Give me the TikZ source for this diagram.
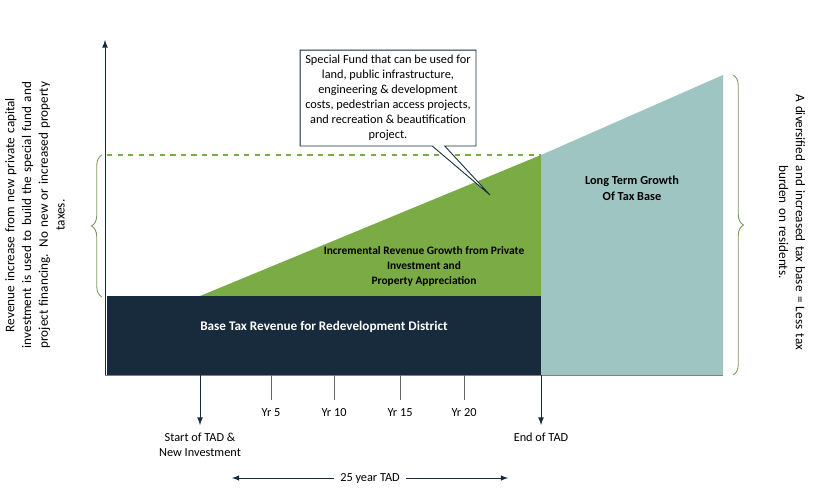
\documentclass[tikz,border=0pt]{standalone}
\usepackage{fontspec}
\setmainfont{Carlito}
\usetikzlibrary{calc,positioning,shapes.callouts,decorations.pathreplacing}
\definecolor{navy}{HTML}{172B3C}
\definecolor{leaf}{HTML}{7AAB45}
\definecolor{teal}{HTML}{9FC5C3}
\begin{document}
\begin{tikzpicture}[x=0.02cm, y=-0.02cm, font=\fontsize{7}{8.5}\selectfont,
  tick/.style={gray!80!black, line width=0.5pt},
  lbl/.style={align=center, text=black, execute at begin node={\hyphenpenalty=10000}},
  brc/.style={decorate, decoration={brace, amplitude=6pt}, leaf!60!gray, line width=0.5pt}]
  \useasboundingbox (0,0) rectangle (820,495);

  % areas
  \fill[teal] (541,155) -- (723,75) -- (723,375) -- (541,375) -- cycle;
  \fill[leaf] (200,296) -- (541,155) -- (541,296) -- cycle;
  \fill[navy] (107,296) rectangle (541,375);
  \draw[leaf, dashed, line width=0.6pt] (107,155) -- (541,155);

  \node[text=white, font=\fontsize{7.5}{9}\selectfont\bfseries] (base) at (324,327) {Base Tax Revenue for Redevelopment District};
  \node[text=white, lbl, font=\fontsize{6.5}{8.5}\selectfont\bfseries] (incr) at (424,266) {Incremental Revenue Growth from Private\\Investment and\\Property Appreciation};
  \node[text=white, lbl, font=\fontsize{7}{9}\selectfont\bfseries] (grow) at (632,188) {Long Term Growth\\Of Tax Base};

  % axis
  \coordinate (o) at (105,375);
  \coordinate (top) at (105,40);
  \draw[-latex, navy, line width=0.5pt] (o) -- (top);
  \draw[gray, line width=0.5pt] (o) -- (723,375);

  % ticks
  \coordinate (s0) at (200,375); \coordinate (s1) at (200,425);
  \coordinate (e0) at (541,375); \coordinate (e1) at (541,425);
  \draw[-latex, navy, line width=0.5pt] (s0) -- (s1);
  \draw[-latex, navy, line width=0.5pt] (e0) -- (e1);
  \foreach \x/\t in {271/5, 334/10, 400/15, 464/20} {
    \draw[tick] (\x,375) -- (\x,400);
    \node[lbl] (yr\t) at (\x,413) {Yr \t};
  }
  \node[lbl, below=1pt of s1] (start) {Start of TAD \&\\New Investment};
  \node[lbl, below=1pt of e1] (end) {End of TAD};

  \node[lbl, fill=white] (span) at (370,478) {25 year TAD};
  \coordinate (p0) at (232,478); \coordinate (p1) at (508,478);
  \draw[-latex, navy] (span) -- (p0);
  \draw[-latex, navy] (span) -- (p1);

  % callout
  \node[rectangle callout, draw=navy, fill=white, line width=0.5pt, lbl,
        minimum width=3.4cm, inner sep=3pt, callout absolute pointer={(490,195)}] (fund) at (388,98)
    {Special Fund that can be used for\\ land, public infrastructure,\\ engineering \& development\\ costs, pedestrian access projects,\\ and recreation \& beautification\\ project.};

  % braces
  \coordinate (lb0) at (102,297); \coordinate (lb1) at (102,155);
  \draw[brc] (lb0) -- (lb1);
  \coordinate (rb0) at (733,75); \coordinate (rb1) at (733,375);
  \draw[brc] (rb0) -- (rb1);

  \node[lbl, rotate=90, text width=6cm, font=\fontsize{7.5}{9.5}\selectfont] (left) at (35,215) {Revenue increase from new private capital\\ investment is used to build the special fund and\\ project financing. No new or increased property\\ taxes.};
  \node[lbl, rotate=-90, text width=5.4cm, font=\fontsize{7.5}{9.5}\selectfont] (right) at (792,222) {A diversified and increased tax base = Less tax\\ burden on residents.};
\end{tikzpicture}
\end{document}
